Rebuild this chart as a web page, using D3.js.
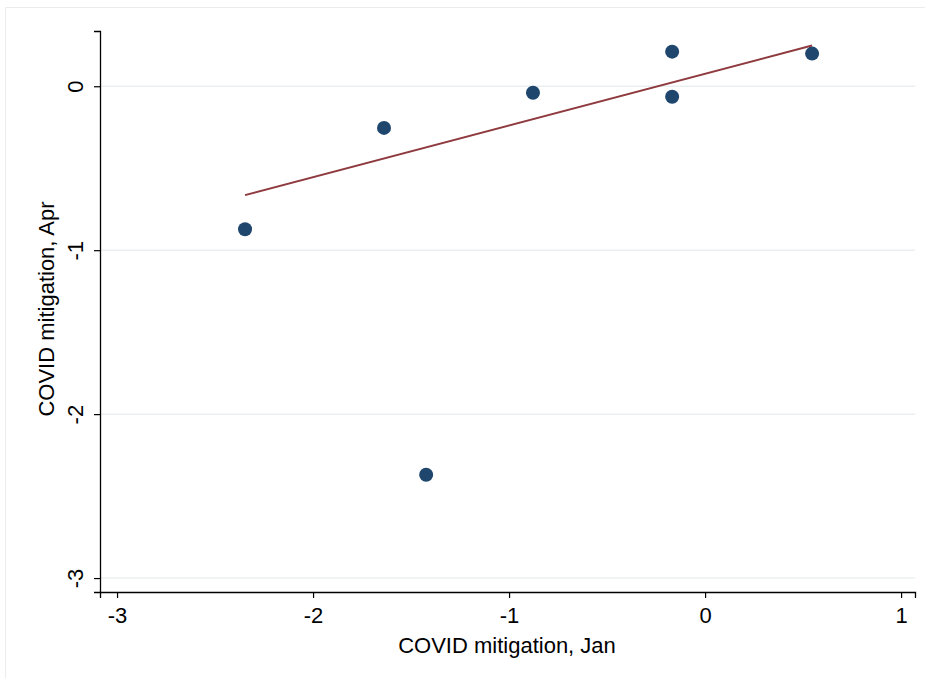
<!DOCTYPE html>
<html>
<head>
<meta charset="utf-8">
<script src="https://cdn.jsdelivr.net/npm/d3@7"></script>
<style>
	body { margin:0; background:#fff; }
	svg text { font-family:"Liberation Sans", Arial, Helvetica, sans-serif; fill:#000; }
</style>
</head>
<body>
<svg id="chart" width="925" height="678"></svg>
<script>
//data
var janValues = [-2.347, -1.638, -1.423, -0.878, -0.168, -0.168, 0.546];
var aprValues = [-0.872, -0.254, -2.370, -0.040, 0.211, -0.064, 0.199];
var fitJan = [-2.347, 0.546];
var fitApr = [-0.664, 0.248];
var xTicks = [-3, -2, -1, 0, 1];
var yTicks = [0, -1, -2, -3];

var svg = d3.select("#chart");

//faint frame, only top and left edges show in the original
svg.append("path")
	.attr("d", "M5.5,678V7.5H925")
	.attr("fill", "none")
	.attr("stroke", "#ececec");

var x = d3.scaleLinear().domain([-3.087, 1.071]).range([100, 915]);
var y = d3.scaleLinear().domain([-3.085, 0.337]).range([592, 31]);

//plain hyphen for negatives, like the original
var fmt = function(d) { return String(d); };

//grid lines
svg.append("g")
	.selectAll("line")
	.data(yTicks)
	.join("line")
	.attr("x1", 101).attr("x2", 915)
	.attr("y1", function(d) { return y(d); })
	.attr("y2", function(d) { return y(d); })
	.attr("stroke", "#eaf0f2")
	.attr("stroke-width", 1.5);

//axes
var xAxis = svg.append("g")
	.attr("transform", "translate(0,592)")
	.call(d3.axisBottom(x).tickValues(xTicks).tickSize(6).tickPadding(7).tickFormat(fmt));
var yAxis = svg.append("g")
	.attr("transform", "translate(100,0)")
	.call(d3.axisLeft(y).tickValues(yTicks).tickSize(6).tickPadding(5).tickFormat(fmt));

[xAxis, yAxis].forEach(function(a) {
	a.select(".domain").attr("stroke", "#000").attr("stroke-width", 1.3);
	a.selectAll(".tick line").attr("stroke", "#000").attr("stroke-width", 1.2);
	a.selectAll("text").style("font-size", "22px").attr("fill", "#000");
});
xAxis.selectAll("text").attr("dy", "0.8em");

//rotated y labels
yAxis.selectAll(".tick text")
	.attr("x", null).attr("dy", null)
	.attr("text-anchor", "middle")
	.attr("transform", "translate(-25,0) rotate(-90)")
	.attr("y", 0)
	.attr("dy", "0.35em");

//axis titles
svg.append("text")
	.attr("x", 507).attr("y", 653)
	.attr("text-anchor", "middle")
	.style("font-size", "22px")
	.text("COVID mitigation, Jan");
svg.append("text")
	.attr("transform", "translate(54,309) rotate(-90)")
	.attr("text-anchor", "middle")
	.style("font-size", "22px")
	.text("COVID mitigation, Apr");

//points
svg.append("g")
	.selectAll("circle")
	.data(janValues)
	.join("circle")
	.attr("cx", function(d) { return x(d); })
	.attr("cy", function(d, i) { return y(aprValues[i]); })
	.attr("r", 7)
	.attr("fill", "#1f466d");

//fitted line
svg.append("path")
	.datum(fitJan.map(function(d, i) { return [d, fitApr[i]]; }))
	.attr("d", d3.line().x(function(d) { return x(d[0]); }).y(function(d) { return y(d[1]); }))
	.attr("fill", "none")
	.attr("stroke", "#8f3a3e")
	.attr("stroke-width", 2);
</script>
</body>
</html>
